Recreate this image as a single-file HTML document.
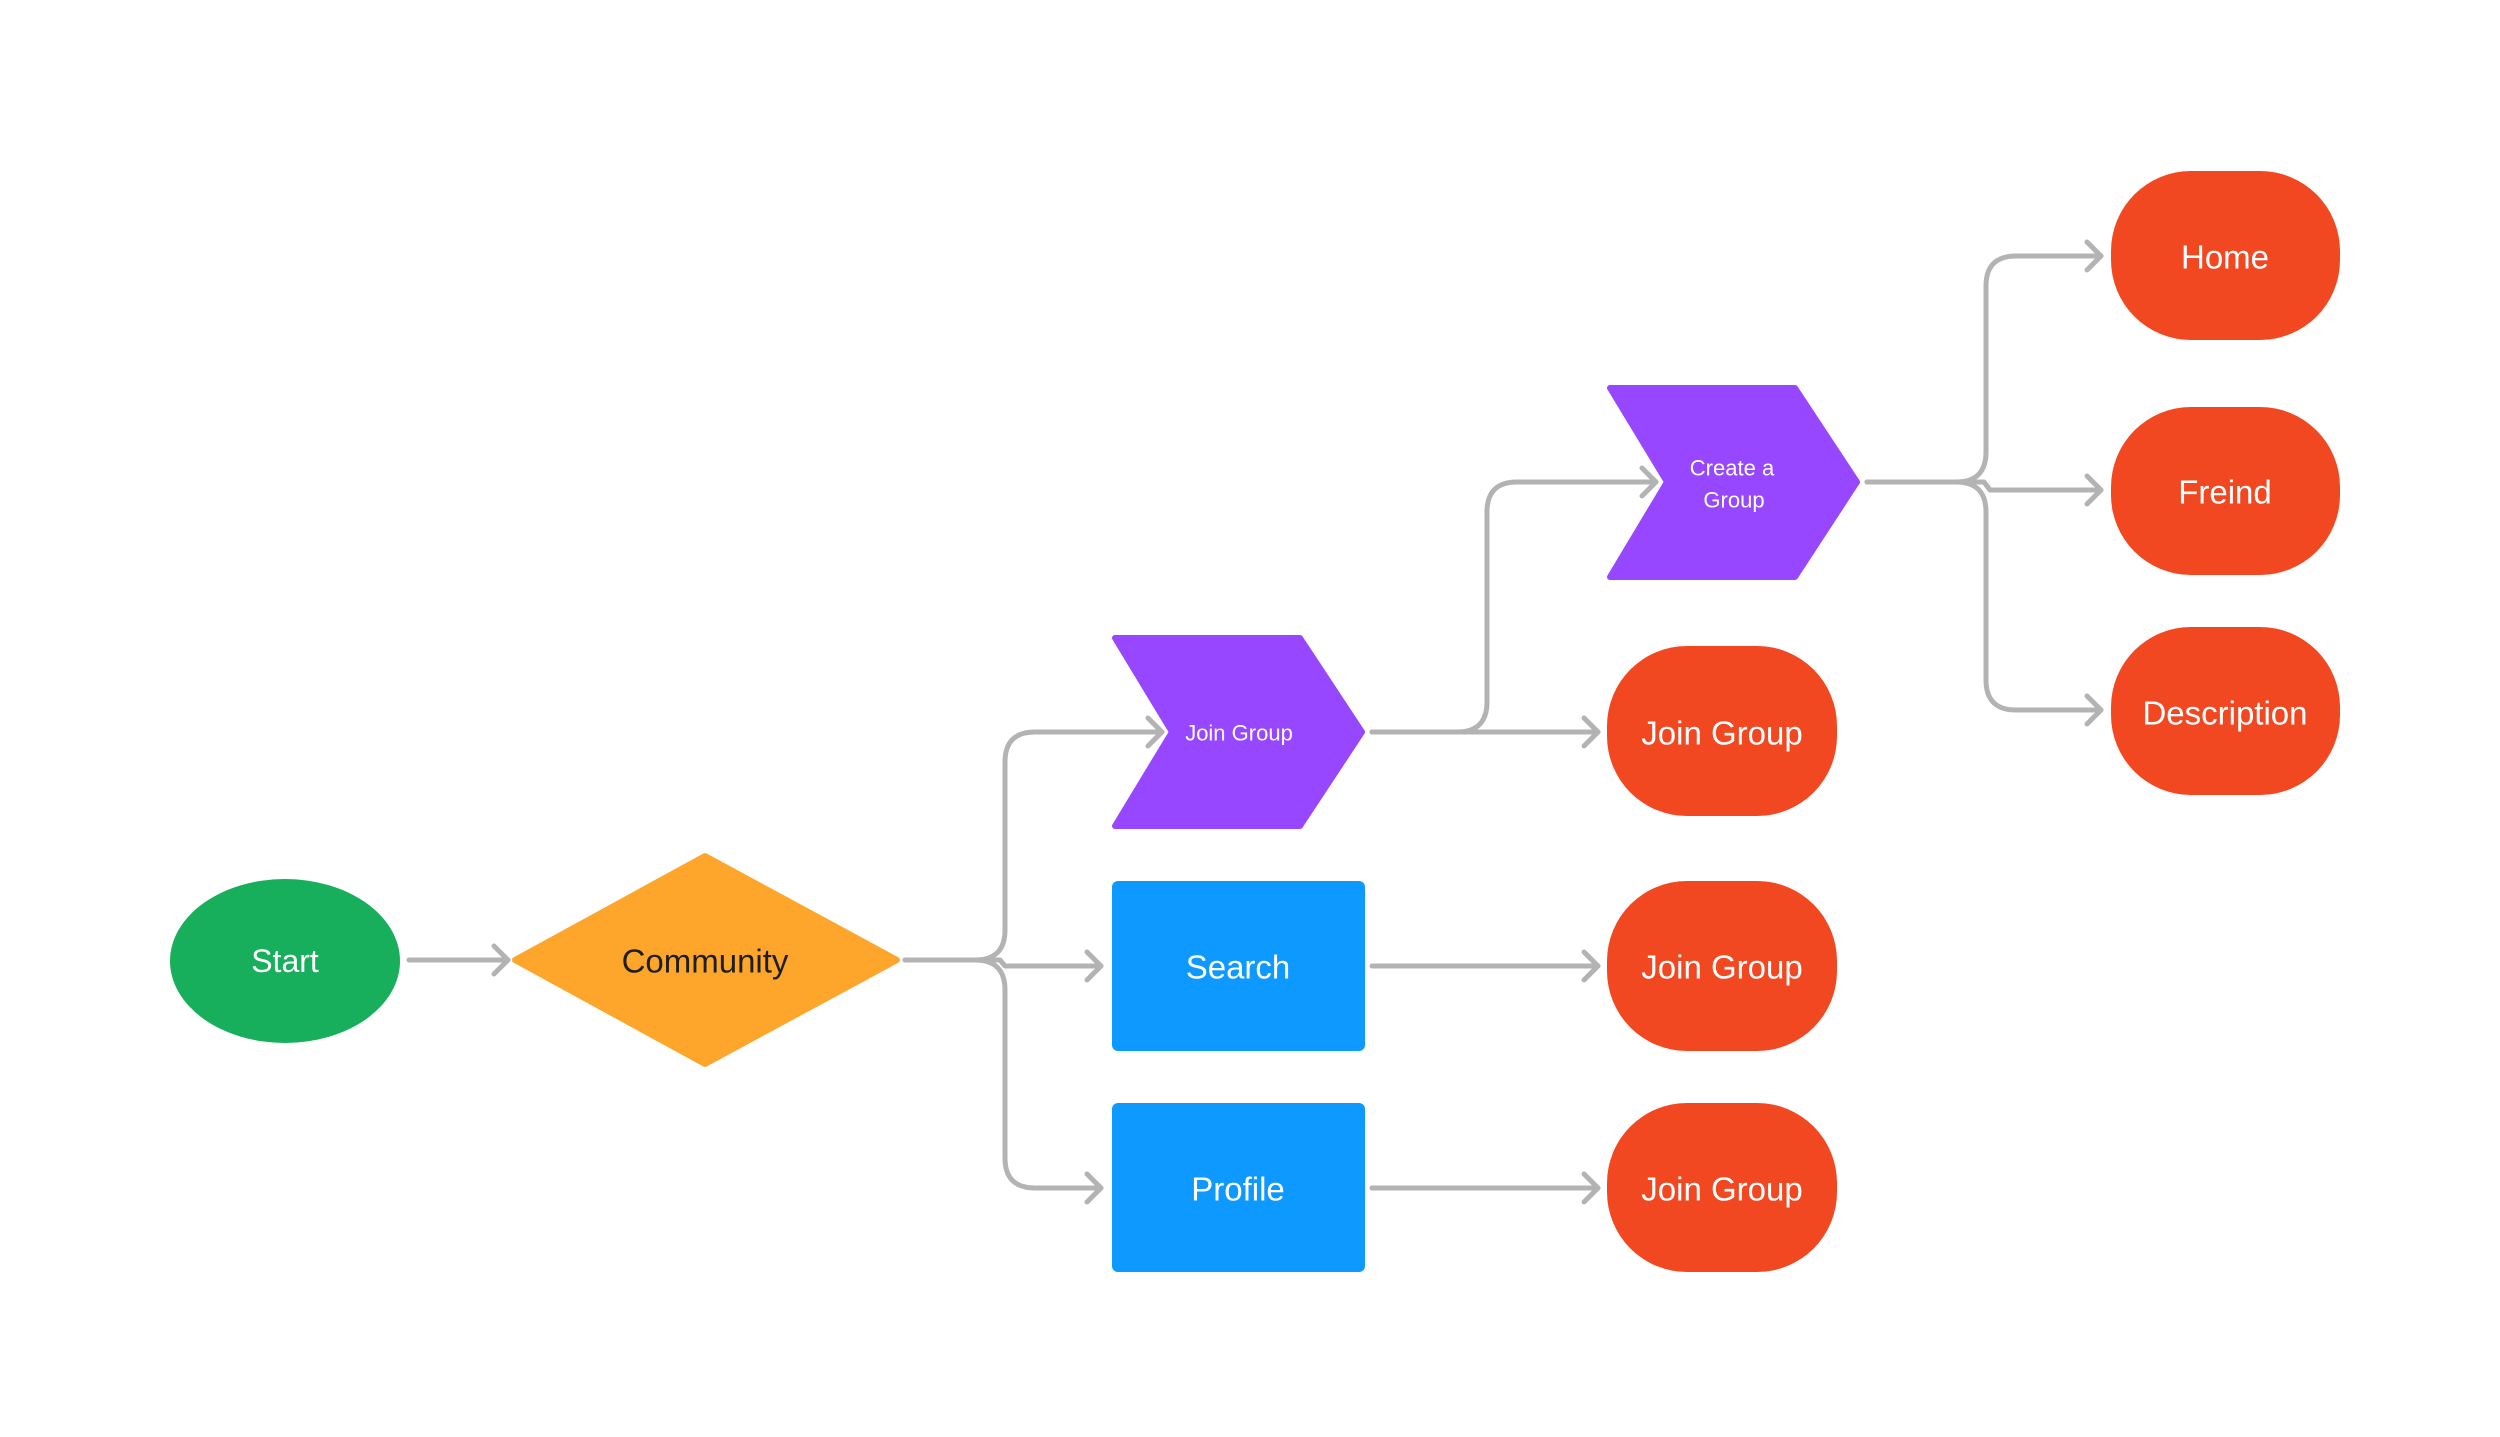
<!DOCTYPE html>
<html><head><meta charset="utf-8"><style>
html,body{margin:0;padding:0;background:#fff;}
svg{display:block;}
text{font-family:"Liberation Sans",sans-serif;text-anchor:middle;dominant-baseline:central;}
</style></head><body>
<svg width="2500" height="1437" viewBox="0 0 2500 1437" xmlns="http://www.w3.org/2000/svg">
<g fill="none" stroke="#b3b3b3" stroke-width="5" stroke-linecap="round" stroke-linejoin="round">
<path d="M409,960 H508"/><polyline points="494,946 508,960 494,974"/>
<path d="M905,960 H975 Q1005,960 1005,930 V762 Q1005,732 1035,732 H1162"/><polyline points="1148,718 1162,732 1148,746"/>
<path d="M905,960 H1000 L1005,966 H1101"/><polyline points="1087,952 1101,966 1087,980"/>
<path d="M975,960 Q1005,960 1005,990 V1158 Q1005,1188 1035,1188 H1101"/><polyline points="1087,1174 1101,1188 1087,1202"/>
<path d="M1372,732 H1598"/><polyline points="1584,718 1598,732 1584,746"/>
<path d="M1372,732 H1457 Q1487,732 1487,702 V512 Q1487,482 1517,482 H1656"/><polyline points="1642,468 1656,482 1642,496"/>
<path d="M1372,966 H1598"/><polyline points="1584,952 1598,966 1584,980"/>
<path d="M1372,1188 H1598"/><polyline points="1584,1174 1598,1188 1584,1202"/>
<path d="M1867,482 H1956 Q1986,482 1986,452 V286 Q1986,256 2016,256 H2101"/><polyline points="2087,242 2101,256 2087,270"/>
<path d="M1867,482 H1984 L1990,490 H2101"/><polyline points="2087,476 2101,490 2087,504"/>
<path d="M1956,482 Q1986,482 1986,512 V680 Q1986,710 2016,710 H2101"/><polyline points="2087,696 2101,710 2087,724"/>
</g>
<ellipse cx="285" cy="961" rx="115" ry="82" fill="#17ae5c"/>
<text x="285" y="961" fill="#fff" font-size="32">Start</text>
<polygon points="705,856 897,960 705,1064 515,960" fill="#fea62b" stroke="#fea62b" stroke-width="6" stroke-linejoin="round"/>
<text x="705" y="961" fill="#1e1e1e" font-size="33">Community</text>
<polygon points="1115,638 1300,638 1362,732 1300,826 1115,826 1172,732" fill="#9747ff" stroke="#9747ff" stroke-width="6" stroke-linejoin="round"/>
<text x="1239" y="733" fill="#fff" font-size="22">Join Group</text>
<polygon points="1610,388 1795,388 1857,482 1795,577 1610,577 1667,482" fill="#9747ff" stroke="#9747ff" stroke-width="6" stroke-linejoin="round"/>
<text x="1732" y="468" fill="#fff" font-size="22">Create a</text>
<text x="1734" y="500" fill="#fff" font-size="22">Group</text>
<rect x="1112" y="881" width="253" height="170" rx="6" fill="#0d99ff"/>
<text x="1238" y="967" fill="#fff" font-size="33">Search</text>
<rect x="1112" y="1103" width="253" height="169" rx="6" fill="#0d99ff"/>
<text x="1238" y="1189" fill="#fff" font-size="33">Profile</text>
<g fill="#f24822">
<rect x="1607" y="646" width="230" height="170" rx="80"/>
<rect x="1607" y="881" width="230" height="170" rx="80"/>
<rect x="1607" y="1103" width="230" height="169" rx="80"/>
<rect x="2111" y="171" width="229" height="169" rx="80"/>
<rect x="2111" y="407" width="229" height="168" rx="80"/>
<rect x="2111" y="627" width="229" height="168" rx="80"/>
</g>
<g fill="#fff" font-size="33">
<text x="1722" y="733">Join Group</text>
<text x="1722" y="967">Join Group</text>
<text x="1722" y="1189">Join Group</text>
<text x="2225" y="257">Home</text>
<text x="2225" y="492">Freind</text>
<text x="2225" y="713">Description</text>
</g>
</svg>
</body></html>
